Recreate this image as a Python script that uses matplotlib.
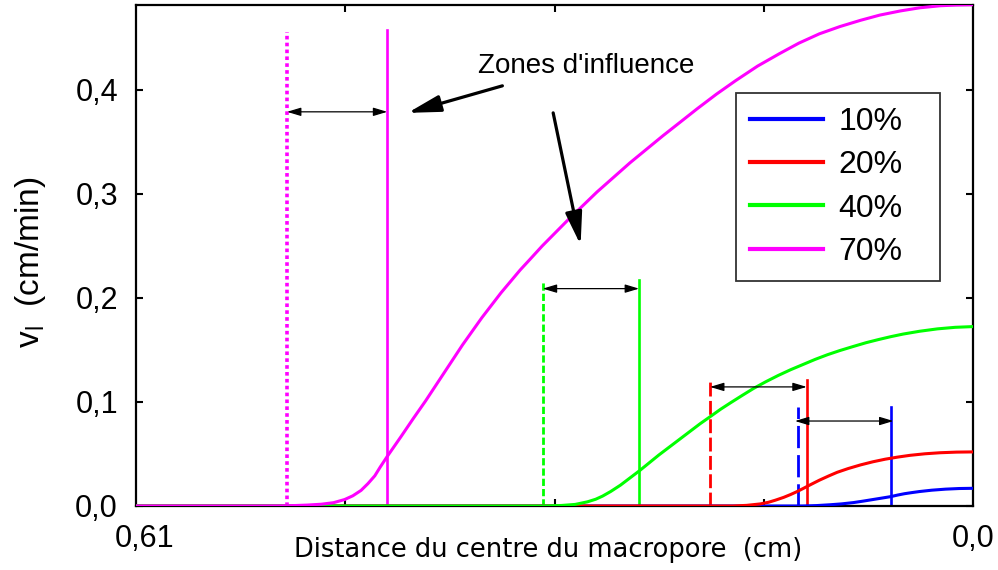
import matplotlib
matplotlib.use("Agg")
import matplotlib.pyplot as plt
from matplotlib.lines import Line2D
from matplotlib.transforms import ScaledTranslation

plt.rcParams['font.family'] = ['Liberation Sans', 'DejaVu Sans']
plt.rcParams['mathtext.fontset'] = 'custom'
plt.rcParams['mathtext.rm'] = 'Liberation Sans'
plt.rcParams['mathtext.it'] = 'Liberation Sans'

# Distance from the macropore centre (cm) and local velocity v_l (cm/min)
x_10 = [0.61, 0.124, 0.114, 0.104, 0.096, 0.087, 0.080, 0.073, 0.066, 0.060,
        0.055, 0.050, 0.045, 0.039, 0.030, 0.020, 0.010, 0.0]
v_10 = [0.0, 0.0, 0.0004, 0.0012, 0.002, 0.0033, 0.0047, 0.0062, 0.0077, 0.009,
        0.0105, 0.0118, 0.0128, 0.0139, 0.0152, 0.0162, 0.0168, 0.017]

x_20 = [0.61, 0.175, 0.165, 0.155, 0.149, 0.144, 0.138, 0.133, 0.128, 0.124,
        0.118, 0.112, 0.105, 0.099, 0.091, 0.082, 0.073, 0.064, 0.055, 0.046,
        0.035, 0.024, 0.012, 0.0]
v_20 = [0.0, 0.0, 0.0006, 0.002, 0.0036, 0.0056, 0.0083, 0.011, 0.014, 0.0167,
        0.0208, 0.0248, 0.029, 0.0324, 0.036, 0.0395, 0.0425, 0.045, 0.047, 0.0487,
        0.0502, 0.0512, 0.0518, 0.052]

x_40 = [0.61, 0.312, 0.300, 0.290, 0.281, 0.275, 0.270, 0.264, 0.257, 0.250,
        0.243, 0.236, 0.229, 0.221, 0.213, 0.206, 0.199, 0.192, 0.184, 0.177,
        0.168, 0.160, 0.151, 0.142, 0.133, 0.124, 0.115, 0.106, 0.097, 0.087,
        0.078, 0.069, 0.060, 0.051, 0.039, 0.026, 0.013, 0.0]
v_40 = [0.0, 0.0, 0.0005, 0.0015, 0.004, 0.0065, 0.0095, 0.014, 0.020, 0.027,
        0.034, 0.0415, 0.049, 0.057, 0.065, 0.072, 0.079, 0.0855, 0.093, 0.099,
        0.1065, 0.113, 0.1195, 0.1255, 0.131, 0.136, 0.141, 0.1455, 0.1495, 0.1535,
        0.157, 0.160, 0.1628, 0.1653, 0.168, 0.1703, 0.1718, 0.1725]

x_70 = [0.61, 0.520, 0.505, 0.495, 0.485, 0.475, 0.466, 0.458, 0.452, 0.446,
        0.441, 0.436, 0.432, 0.427, 0.422, 0.417, 0.408, 0.399, 0.392, 0.385,
        0.378, 0.372, 0.365, 0.358, 0.351, 0.344, 0.337, 0.330, 0.323, 0.314,
        0.305, 0.296, 0.285, 0.274, 0.262, 0.250, 0.238, 0.226, 0.213, 0.201,
        0.187, 0.173, 0.157, 0.141, 0.127, 0.112, 0.097, 0.082, 0.068, 0.053,
        0.039, 0.024, 0.012, 0.0]
v_70 = [0.0, 0.0, 0.0001, 0.0004, 0.0009, 0.0017, 0.0032, 0.0062, 0.0098, 0.015,
        0.0215, 0.029, 0.0375, 0.0475, 0.057, 0.0665, 0.084, 0.101, 0.115, 0.129,
        0.143, 0.155, 0.168, 0.181, 0.193, 0.205, 0.216, 0.227, 0.237, 0.250,
        0.262, 0.274, 0.288, 0.302, 0.316, 0.330, 0.343, 0.356, 0.3695, 0.382,
        0.396, 0.409, 0.423, 0.435, 0.445, 0.454, 0.461, 0.467, 0.472, 0.476,
        0.479, 0.481, 0.4817, 0.482]

labels = ['10%', '20%', '40%', '70%']
colors = ['#0000ff', '#ff0000', '#00ff00', '#ff00ff']

# Influence zone limits: outer (broken line) and inner (solid line) positions
zone_outer = [0.1278, 0.1917, 0.3136, 0.500]
zone_inner = [0.0600, 0.1212, 0.2434, 0.4269]
zone_top_outer = [0.095, 0.121, 0.217, 0.456]
zone_top_inner = [0.095, 0.121, 0.217, 0.458]
zone_arrow_y = [0.0817, 0.1145, 0.209, 0.379]
zone_styles = [(0, (8, 2.5)), (0, (5, 1.6)), (0, (2.6, 1.1)), (0, (1.0, 0.9))]
zone_widths = [2.0, 2.0, 2.0, 2.6]

x_ticks = [0.61, 0.0]
x_ticklabels = ['0,61', '0,0']
x_minor = [0.4575, 0.305, 0.1525]
y_ticks = [0.0, 0.1, 0.2, 0.3, 0.4]
y_ticklabels = ['0,0', '0,1', '0,2', '0,3', '0,4']

fig = plt.figure(figsize=(9.98, 5.70), dpi=100)
ax = fig.add_axes([0.1363, 0.1123, 0.8387, 0.8789])

curves = [(x_10, v_10), (x_20, v_20), (x_40, v_40), (x_70, v_70)]
for (xs, vs), c in zip(curves, colors):
    ax.plot(xs, vs, color=c, lw=2.2, solid_capstyle='butt',
            solid_joinstyle='round', zorder=3)

for i, c in enumerate(colors):
    ax.plot([zone_outer[i], zone_outer[i]], [0, zone_top_outer[i]], color=c,
            lw=zone_widths[i], linestyle=zone_styles[i], zorder=2)
    ax.plot([zone_inner[i], zone_inner[i]], [0, zone_top_inner[i]], color=c,
            lw=1.9, zorder=2)

# Double-headed arrows spanning each zone
for i in range(4):
    x0, x1 = zone_outer[i], zone_inner[i]
    if i == 0:
        x0, x1 = x0 + 0.002, x1 - 0.002
    ax.annotate('', xy=(x1, zone_arrow_y[i]), xytext=(x0, zone_arrow_y[i]),
                arrowprops=dict(arrowstyle='<|-|>,head_length=0.6,head_width=0.18',
                                color='black', lw=0.9, shrinkA=0, shrinkB=0,
                                mutation_scale=14),
                zorder=4)

ax.text(0.2817, 0.423, "Zones d'influence", fontsize=20, ha='center',
        va='center', zorder=5)
arrow_kw = dict(arrowstyle='-|>,head_length=1.1,head_width=0.28', color='black',
                lw=2.3, shrinkA=0, shrinkB=0, mutation_scale=18)
ax.annotate('', xy=(0.412, 0.378), xytext=(0.343, 0.404), arrowprops=arrow_kw)
ax.annotate('', xy=(0.286, 0.251), xytext=(0.306, 0.378), arrowprops=arrow_kw)

ax.set_xlim(0.61, 0.0)
ax.set_ylim(0.0, 0.4817)
ax.set_xticks(x_ticks)
ax.set_xticklabels(x_ticklabels)
ax.set_xticks(x_minor, minor=True)
ax.set_yticks(y_ticks)
ax.set_yticklabels(y_ticklabels)
ax.tick_params(axis='x', which='major', length=0, pad=13, labelsize=22)
ax.tick_params(axis='x', which='minor', direction='in', length=5, width=1.5,
               top=True, bottom=True)
ax.tick_params(axis='y', which='major', direction='in', length=5, width=1.5,
               left=True, right=True, pad=13, labelsize=22)
for s in ax.spines.values():
    s.set_linewidth(1.6)

# Nudge the left-end distance label to the right of the corner
first_label = ax.get_xticklabels()[0]
first_label.set_transform(first_label.get_transform()
                          + ScaledTranslation(0.09, 0, fig.dpi_scale_trans))

fig.text(548.5 / 998, 1 - 550 / 570, 'Distance du centre du macropore  (cm)',
         fontsize=18.5, family='DejaVu Sans', ha='center', va='center')
fig.text(30 / 998, 1 - 262 / 570, r'v$_\mathregular{l}$  (cm/min)', fontsize=24,
         rotation=90, ha='center', va='center')

handles = [Line2D([], [], color=c, lw=3) for c in colors]
leg_h = 0.32
leg = ax.legend(handles, labels, loc='upper left',
                bbox_to_anchor=(0.7375, 0.8368 - leg_h, 0.2044, leg_h),
                bbox_transform=fig.transFigure, mode='expand',
                fontsize=23, frameon=True, fancybox=False, borderaxespad=0,
                handlelength=2.26, handletextpad=0.5, borderpad=0.45,
                labelspacing=0.41)
leg.get_frame().set_edgecolor('black')
leg.get_frame().set_linewidth(1.3)

fig.savefig('out.png', dpi=100)
